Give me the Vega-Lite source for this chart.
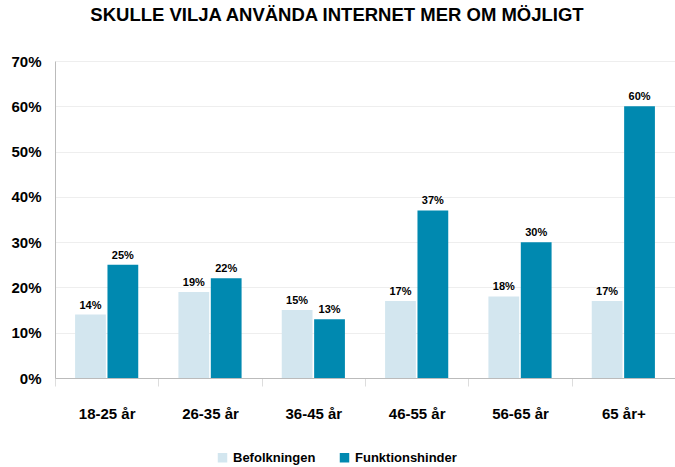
{
  "$schema": "https://vega.github.io/schema/vega-lite/v6.json",
  "width": 620,
  "height": 317,
  "autosize": {"type": "none"},
  "padding": {"left": 55, "top": 61, "right": 0, "bottom": 89},
  "title": {
    "text": "SKULLE VILJA ANVÄNDA INTERNET MER OM MÖJLIGT",
    "font": "Liberation Sans",
    "fontSize": 18.5,
    "fontWeight": "bold",
    "color": "#000000",
    "anchor": "middle",
    "dx": -28,
    "offset": 30
  },
  "config": {
    "view": {"stroke": null},
    "font": "Liberation Sans"
  },
  "data": {
    "values": [
      {"group": "18-25 år", "serie": "Befolkningen", "value": 14, "label": "14%"},
      {"group": "18-25 år", "serie": "Funktionshinder", "value": 25, "label": "25%"},
      {"group": "26-35 år", "serie": "Befolkningen", "value": 19, "label": "19%"},
      {"group": "26-35 år", "serie": "Funktionshinder", "value": 22, "label": "22%"},
      {"group": "36-45 år", "serie": "Befolkningen", "value": 15, "label": "15%"},
      {"group": "36-45 år", "serie": "Funktionshinder", "value": 13, "label": "13%"},
      {"group": "46-55 år", "serie": "Befolkningen", "value": 17, "label": "17%"},
      {"group": "46-55 år", "serie": "Funktionshinder", "value": 37, "label": "37%"},
      {"group": "56-65 år", "serie": "Befolkningen", "value": 18, "label": "18%"},
      {"group": "56-65 år", "serie": "Funktionshinder", "value": 30, "label": "30%"},
      {"group": "65 år+", "serie": "Befolkningen", "value": 17, "label": "17%"},
      {"group": "65 år+", "serie": "Funktionshinder", "value": 60, "label": "60%"}
    ]
  },
  "encoding": {
    "x": {
      "field": "group",
      "type": "nominal",
      "sort": null,
      "scale": {"paddingInner": 0, "paddingOuter": 0},
      "axis": {
        "title": null,
        "labelAngle": 0,
        "labelFont": "Liberation Sans",
        "labelFontSize": 15,
        "labelFontWeight": "bold",
        "labelColor": "#000000",
        "labelPadding": 20,
        "domainColor": "#bbbbbb",
        "tickColor": "#dddddd",
        "tickBand": "extent",
        "tickSize": 8,
        "grid": false
      }
    },
    "xOffset": {
      "field": "serie",
      "type": "nominal",
      "scale": {"paddingInner": 0.05, "paddingOuter": 0.62}
    },
    "y": {
      "field": "value",
      "type": "quantitative",
      "scale": {"domain": [0, 70]},
      "axis": {
        "title": null,
        "values": [0, 10, 20, 30, 40, 50, 60, 70],
        "labelExpr": "datum.value + '%'",
        "labelFont": "Liberation Sans",
        "labelFontSize": 15,
        "labelFontWeight": "bold",
        "labelColor": "#000000",
        "labelPadding": 14,
        "ticks": false,
        "domainColor": "#bbbbbb",
        "gridColor": "#eeeeee"
      }
    }
  },
  "layer": [
    {
      "mark": {"type": "bar"},
      "encoding": {
        "color": {
          "field": "serie",
          "type": "nominal",
          "scale": {"domain": ["Befolkningen", "Funktionshinder"], "range": ["#d3e6ef", "#0089b0"]},
          "legend": {
            "title": null,
            "orient": "none",
            "direction": "horizontal",
            "legendX": 161,
            "legendY": 390,
            "symbolType": "square",
            "symbolSize": 90,
            "labelFont": "Liberation Sans",
            "labelFontSize": 13,
            "labelFontWeight": "bold",
            "labelColor": "#000000",
            "columnPadding": 22
          }
        }
      }
    },
    {
      "mark": {"type": "text", "dy": -9, "fontSize": 11, "fontWeight": "bold", "font": "Liberation Sans", "color": "#000000"},
      "encoding": {
        "text": {"field": "label", "type": "nominal"}
      }
    }
  ]
}
